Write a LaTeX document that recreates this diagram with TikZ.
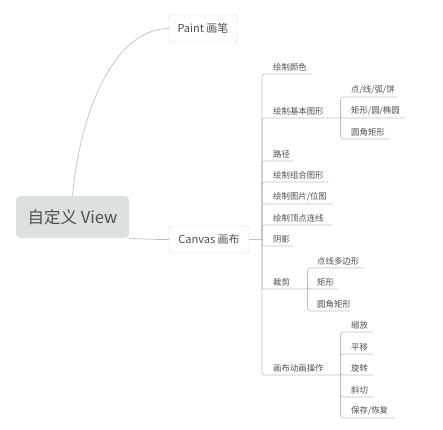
\documentclass[tikz,border=0pt]{standalone}
\usepackage{fontspec}
\setmainfont{Noto Sans CJK SC}
\usetikzlibrary{positioning}
\definecolor{rootFill}{RGB}{218,225,224}
\definecolor{inkGray}{RGB}{78,78,78}
\definecolor{lineGray}{RGB}{192,192,192}
\definecolor{edgeGray}{RGB}{212,212,212}

\begin{document}
\begin{tikzpicture}[
  x=1pt, y=-1pt,
  rootbox/.style={
    rectangle, rounded corners=4pt, fill=rootFill,
    minimum width=113pt, minimum height=42pt, inner sep=0pt,
    font=\fontsize{16.5}{16.5}\selectfont, text=inkGray
  },
  topic/.style={
    rectangle, rounded corners=3pt, draw=edgeGray, fill=white,
    minimum width=#1, minimum height=27pt, inner sep=0pt,
    font=\fontsize{11}{11}\selectfont, text=inkGray
  },
  leaf/.style={
    anchor=south west, inner xsep=0pt, inner ysep=2.5pt,
    text width=#1, align=left,
    font=\fontsize{8.4}{8.4}\selectfont, text=inkGray
  },
  link/.style={draw=lineGray, line width=0.7pt, rounded corners=3pt}
]
  \useasboundingbox (0,0) rectangle (443,429);

  % main topics
  \node[rootbox] (root) at (72.5,217) {自定义 View};
  \node[topic=68pt] (paint) at (203,28.5) {Paint 画笔};
  \node[topic=80pt] (canvas) at (209,239.5) {Canvas 画布};

  \draw[link] (root.north) .. controls +(8,-86) and +(-54,0) .. (paint.west);
  \draw[link] (root.south east) .. controls +(18,1) and +(-18,0) .. (canvas.west);

  % canvas branches
  \coordinate (cv) at (262,239.5);
  \draw[link] (canvas.east) -- (cv);
  \foreach \name/\txt/\y/\w in {
      c1/绘制颜色/74/38, c2/绘制基本图形/118/67, c3/路径/161/20,
      c4/绘制组合图形/182/55, c5/{绘制图片/位图}/204/60,
      c6/绘制顶点连线/225/59, c7/阴影/246/20, c8/裁剪/289/34,
      c9/画布动画操作/375/67} {
    \node[leaf=\w pt] (\name) at (273,\y) {\txt};
    \draw[link] (cv) |- (\name.south west) -- (\name.south east);
  }

  % basic shapes
  \foreach \name/\txt/\y/\w in {
      s1/{点/线/弧/饼}/97/46, s2/{矩形/圆/椭圆}/118/54, s3/圆角矩形/139/38} {
    \node[leaf=\w pt] (\name) at (351,\y) {\txt};
    \draw[link] (c2.south east) |- (\name.south west) -- (\name.south east);
  }

  % clipping
  \foreach \name/\txt/\y/\w in {
      k1/点线多边形/268/46, k2/矩形/289/21, k3/圆角矩形/311/33} {
    \node[leaf=\w pt] (\name) at (317,\y) {\txt};
    \draw[link] (c8.south east) |- (\name.south west) -- (\name.south east);
  }

  % canvas transforms
  \foreach \name/\txt/\y/\w in {
      a1/缩放/332/22, a2/平移/354/22, a3/旋转/375/22,
      a4/斜切/397/22, a5/{保存/恢复}/418/43} {
    \node[leaf=\w pt] (\name) at (351,\y) {\txt};
    \draw[link] (c9.south east) |- (\name.south west) -- (\name.south east);
  }
\end{tikzpicture}
\end{document}
